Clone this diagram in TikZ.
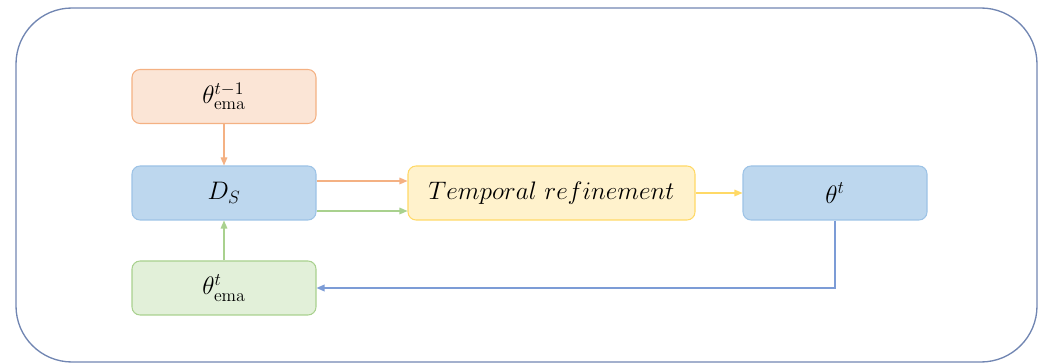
\RequirePackage{fix-cm}
\documentclass[tikz,border=0pt]{standalone}
\usetikzlibrary{arrows.meta}
\definecolor{orfill}{HTML}{FBE5D6}\definecolor{ordraw}{HTML}{F4B183}
\definecolor{blfill}{HTML}{BDD7EE}\definecolor{bldraw}{HTML}{9DC3E6}
\definecolor{grfill}{HTML}{E2F0D9}\definecolor{grdraw}{HTML}{A9D18E}
\definecolor{yefill}{HTML}{FFF2CC}\definecolor{yedraw}{HTML}{FFD966}
\definecolor{outer}{HTML}{7186B2}\definecolor{fb}{HTML}{4472C4}
\begin{document}
\begin{tikzpicture}[x=0.75pt,y=-0.75pt,
  box/.style={rectangle,rounded corners=6pt,line width=0.8pt,minimum width=138pt,minimum height=40.5pt,inner sep=0pt,font=\fontsize{19}{22}\selectfont},
  arr/.style={line width=0.8pt,-{Triangle[length=6pt,width=5pt]}}]
\useasboundingbox (0,0) rectangle (1040,363);
\draw[outer,line width=1pt,rounded corners=42pt] (16,8) rectangle (1037,362);
\node[box,fill=orfill,draw=ordraw] (top) at (224,96.5) {$\theta^{t-1}_{\mathrm{ema}}$};
\node[box,fill=blfill,draw=bldraw] (ds) at (224,193) {$D_S$};
\node[box,fill=grfill,draw=grdraw] (bot) at (224,288) {$\theta^{t}_{\mathrm{ema}}$};
\node[box,fill=yefill,draw=yedraw,minimum width=215.25pt] (tr) at (551.5,193) {$Temporal\ refinement$};
\node[box,fill=blfill,draw=bldraw] (th) at (835,193) {$\theta^{t}$};
\draw[arr,ordraw] (top) -- (ds);
\draw[arr,grdraw] (bot) -- (ds);
\draw[arr,ordraw] ([yshift=9pt]ds.east) -- ([yshift=9pt]tr.west);
\draw[arr,grdraw] ([yshift=-13.5pt]ds.east) -- ([yshift=-13.5pt]tr.west);
\draw[arr,yedraw] (tr) -- (th);
\draw[arr,fb!70,line width=1.1pt] (th.south) |- (bot.east);
\end{tikzpicture}
\end{document}
